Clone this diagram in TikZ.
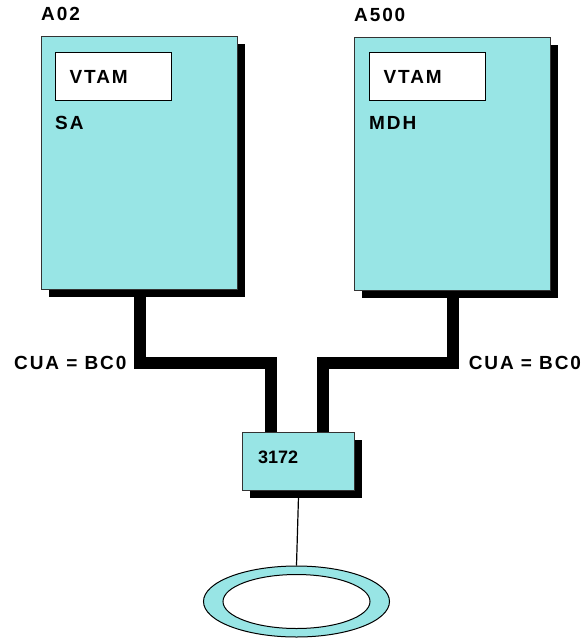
\documentclass[tikz,border=0pt]{standalone}
\usepackage{fontspec}
\setmainfont{Liberation Sans}
\newfontfamily\lblfont[LetterSpace=10.0]{Liberation Sans}
\usetikzlibrary{calc,positioning,shadows,shapes.geometric,backgrounds}
\definecolor{aqua}{RGB}{152,229,229}

\begin{document}
\begin{tikzpicture}[x=1pt,y=-1pt]

\tikzset{hostbox/.style={draw=black!80,line width=1.3pt,fill=aqua,inner sep=0pt,anchor=north west,
  general shadow={fill=black,shadow xshift=7pt,shadow yshift=-7pt}},
vtambox/.style={draw=black,line width=1.3pt,fill=white,anchor=north west,minimum height=48pt,
  text width=88pt,inner xsep=14pt,align=left},
lbl/.style={font=\lblfont\bfseries\fontsize{19}{21}\selectfont,inner sep=0pt},
cable/.style={line width=12pt,color=black}}

\useasboundingbox (0,0) rectangle (582,638);

% hosts
\node[hostbox,minimum width=196pt,minimum height=253pt] (hostA) at (41,36) {};
\node[hostbox,minimum width=196pt,minimum height=253pt] (hostB) at (354,37) {};
\node[lbl,anchor=base west] (nameA) at ($(hostA.north west)+(0,-16)$) {A02};
\node[lbl,anchor=base west] (nameB) at ($(hostB.north west)+(0,-16)$) {A500};

% VTAM inside each host
\node[vtambox] (vtamA) at ($(hostA.north west)+(14,16)$) {\lblfont\bfseries\fontsize{19}{21}\selectfont VTAM};
\node[vtambox] (vtamB) at ($(hostB.north west)+(15,15)$) {\lblfont\bfseries\fontsize{19}{21}\selectfont VTAM};
\node[lbl,anchor=base west] (saA) at ($(vtamA.south west)+(0,28)$) {SA};
\node[lbl,anchor=base west] (mdhB) at ($(vtamB.south west)+(0,28)$) {MDH};

% 3172 and ring
\node[hostbox,minimum width=112pt,minimum height=58pt] (ctl) at (242,432) {};
\node[font=\bfseries\fontsize{18}{20}\selectfont,inner sep=0pt,anchor=base west] (ctlLbl) at ($(ctl.north west)+(16,31)$) {3172};
\node[ellipse,draw=black,line width=1pt,fill=aqua,minimum width=186pt,minimum height=71pt] (ring) at (296.5,601.5) {};
\node[ellipse,draw=black,line width=1pt,fill=white,minimum width=147pt,minimum height=54pt] (ringIn) at (ring.center) {};

% Channels
\coordinate (inA) at ($(ctl.north)+(-28,0)$);
\coordinate (inB) at ($(ctl.north)+(24,0)$);
\begin{scope}[on background layer]
\draw[cable] (hostA.south) -- ++(0,73) -| (inA);
\draw[cable] (hostB.south) -- ++(0,72) -| (inB);
\end{scope}
\node[lbl,anchor=base east] (cuaA) at ($(hostA.south)+(-13,79)$) {CUA = BC0};
\node[lbl,anchor=base west] (cuaB) at ($(hostB.south)+(16,78)$) {CUA = BC0};

% LAN
\draw[line width=1.2pt] (ctl.south) -- (ring.north);

\end{tikzpicture}
\end{document}
